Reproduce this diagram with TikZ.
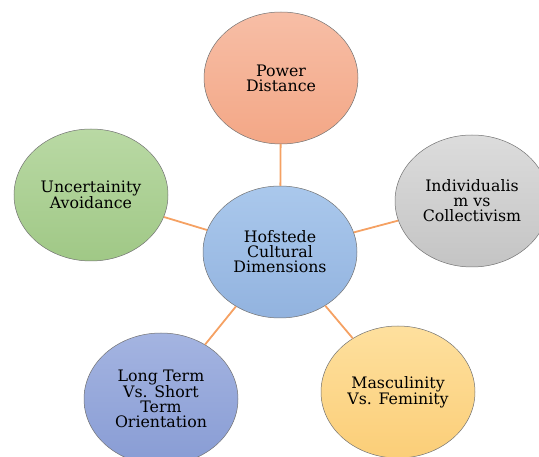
\documentclass[tikz,border=0pt]{standalone}
\usepackage{fontspec}
\setmainfont{DejaVu Serif}
\usepackage{tikz}
\usepackage{xcolor}
\usetikzlibrary{shapes.geometric}

\definecolor{linkorange}{HTML}{F5A163}
\tikzstyle{dim}=[ellipse, draw=black!55, line width=0.5pt, minimum width=154pt, minimum height=132pt, inner sep=0pt, text=black]
\tikzstyle{link}=[draw=linkorange, line width=1.8pt]

\begin{document}
\begin{tikzpicture}[x=1pt, y=-1pt, every text node part/.style={align=center, font=\fontsize{15.8}{15}\selectfont}]
    \useasboundingbox (0,0) rectangle (539,457);

    \node[dim, top color={rgb,255:red,247;green,190;blue,166}, bottom color={rgb,255:red,243;green,167;blue,134}] (power) at (281,78) {Power\\Distance};
    \node[dim, top color={rgb,255:red,220;green,220;blue,220}, bottom color={rgb,255:red,196;green,196;blue,196}] (indiv) at (472,201) {Individualis\\m vs\\Collectivism};
    \node[dim, top color={rgb,255:red,185;green,217;blue,164}, bottom color={rgb,255:red,160;green,200;blue,134}] (uncert) at (91,195) {Uncertainity\\Avoidance};
    \node[dim, top color={rgb,255:red,170;green,200;blue,236}, bottom color={rgb,255:red,146;green,179;blue,223}] (hub) at (280,252) {Hofstede\\Cultural\\Dimensions};
    \node[dim, top color={rgb,255:red,164;green,180;blue,225}, bottom color={rgb,255:red,136;green,156;blue,212}] (longterm) at (161,399) {Long Term\\Vs. Short\\Term\\Orientation};
    \node[dim, top color={rgb,255:red,254;green,224;blue,158}, bottom color={rgb,255:red,251;green,206;blue,120}] (masc) at (398,392) {Masculinity\\Vs. Feminity};

    \draw[link] (hub) -- (power);
    \draw[link] (hub) -- (indiv);
    \draw[link] (hub) -- (uncert);
    \draw[link] (hub) -- (longterm);
    \draw[link] (hub) -- (masc);
\end{tikzpicture}
\end{document}
